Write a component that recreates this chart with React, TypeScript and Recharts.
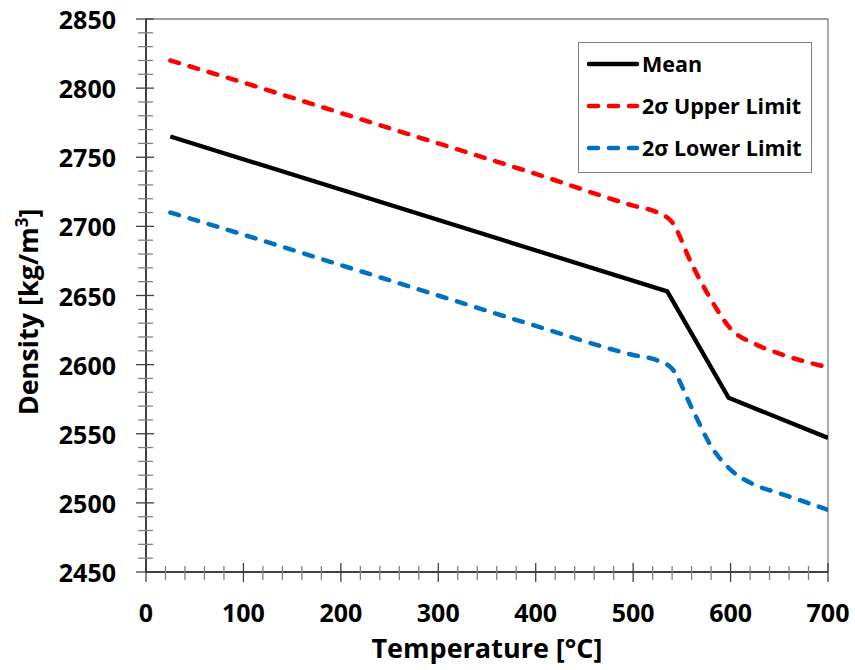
import { Label, Line, LineChart, ReferenceLine, XAxis, YAxis } from 'recharts';

// Mean density: piecewise-linear through the transition
const meanTemps = [25, 535, 598, 700];
const meanDensity = [2765, 2653, 2576, 2547];

// 2-sigma band, sampled more densely around the transition
const limitTemps = [25, 100, 200, 300, 400, 500, 525, 540, 560, 580, 600, 625, 650, 700];
const upperDensity = [2820, 2804, 2782, 2760, 2738, 2715, 2710, 2703, 2673, 2647, 2626, 2615, 2608, 2598];
const lowerDensity = [2710, 2694, 2672, 2650, 2628, 2607, 2603, 2597, 2569, 2541, 2524, 2513, 2507, 2495];

const xTicks = Array.from({ length: 36 }, (_, i) => i * 20);
const yTicks = Array.from({ length: 41 }, (_, i) => 2450 + i * 10);

const seriesNames = ['Mean', '2σ Upper Limit', '2σ Lower Limit'];
const seriesColors = ['#000000', '#ff0000', '#0070c0'];

const FONT = '"Open Sans", "Liberation Sans", sans-serif';
const Y_AXIS_WIDTH = 146;

const toPoints = (temps: number[], values: number[]) =>
  temps.map((t, i) => ({ t, v: values[i] }));

const meanData = toPoints(meanTemps, meanDensity);
const upperData = toPoints(limitTemps, upperDensity);
const lowerData = toPoints(limitTemps, lowerDensity);

function XTick({ x, y, payload }: any) {
  const major = payload.value % 100 === 0;
  return (
    <g>
      <line
        x1={x}
        x2={x}
        y1={y - (major ? 9 : 6)}
        y2={y + (major ? 10 : 8)}
        stroke={major ? '#404040' : '#808080'}
        strokeWidth={1.3}
      />
      {major && (
        <text
          x={x}
          y={y + 40}
          textAnchor="middle"
          dominantBaseline="central"
          fontFamily={FONT}
          fontWeight={700}
          fontSize={25}
          fill="#000"
        >
          {payload.value}
        </text>
      )}
    </g>
  );
}

function YTick({ x, y, payload }: any) {
  const major = payload.value % 50 === 0;
  return (
    <g>
      <line
        x1={x - (major ? 10 : 8)}
        x2={x + (major ? 8 : 7)}
        y1={y}
        y2={y}
        stroke={major ? '#404040' : '#808080'}
        strokeWidth={1.3}
      />
      {major && (
        <text
          x={Y_AXIS_WIDTH - 30}
          y={y}
          textAnchor="end"
          dominantBaseline="central"
          fontFamily={FONT}
          fontWeight={700}
          fontSize={25}
          fill="#000"
        >
          {payload.value}
        </text>
      )}
    </g>
  );
}

function LegendBox() {
  return (
    <div
      style={{
        position: 'absolute',
        left: 578,
        top: 42,
        width: 234,
        height: 131,
        border: '1.5px solid #7f7f7f',
        background: '#fff',
        boxSizing: 'border-box',
        fontFamily: FONT,
        fontWeight: 700,
        fontSize: 21.5,
        lineHeight: 1,
        color: '#000',
        paddingTop: 0,
      }}
    >
      {seriesNames.map((name, i) => (
        <div key={name} style={{ display: 'flex', alignItems: 'center', height: 42, paddingLeft: 7 }}>
          <svg width={54} height={10} style={{ marginRight: 2 }}>
            <line
              x1={3}
              x2={51}
              y1={5}
              y2={5}
              stroke={seriesColors[i]}
              strokeWidth={4.5}
              strokeLinecap="round"
              strokeDasharray={i === 0 ? undefined : '9 11'}
            />
          </svg>
          <span>{name}</span>
        </div>
      ))}
    </div>
  );
}

export default function App() {
  return (
    <div style={{ position: 'absolute', left: 0, top: 0, width: 855, height: 670, background: '#fff' }}>
      <LineChart width={855} height={670} margin={{ top: 19, right: 27, bottom: 68, left: 0 }}>
        <XAxis
          dataKey="t"
          type="number"
          domain={[0, 700]}
          ticks={xTicks}
          interval={0}
          height={30}
          tickSize={0}
          tickMargin={0}
          tickLine={false}
          tick={<XTick />}
          axisLine={{ stroke: '#000', strokeWidth: 1.5 }}
          allowDataOverflow
        >
          <Label
            content={() => (
              <text
                x={487}
                y={658}
                textAnchor="middle"
                fontFamily={FONT}
                fontWeight={700}
                fontSize={27}
                fill="#000"
              >
                Temperature [°C]
              </text>
            )}
          />
        </XAxis>
        <YAxis
          type="number"
          domain={[2450, 2850]}
          ticks={yTicks}
          interval={0}
          width={Y_AXIS_WIDTH}
          tickSize={0}
          tickMargin={0}
          tickLine={false}
          tick={<YTick />}
          axisLine={{ stroke: '#000', strokeWidth: 1.5 }}
          allowDataOverflow
        >
          <Label
            content={() => (
              <text
                transform="translate(38 312) rotate(-90)"
                textAnchor="middle"
                fontFamily={FONT}
                fontWeight={700}
                fontSize={27}
                fill="#000"
              >
                Density [kg/m
                <tspan dy={-10} fontSize={17}>3</tspan>
                <tspan dy={10}>]</tspan>
              </text>
            )}
          />
        </YAxis>
        <ReferenceLine y={2850} stroke="#7f7f7f" strokeWidth={1.3} />
        <ReferenceLine x={700} stroke="#7f7f7f" strokeWidth={1.3} />
        <Line
          data={upperData}
          dataKey="v"
          name={seriesNames[1]}
          type="monotone"
          stroke={seriesColors[1]}
          strokeWidth={4.5}
          strokeDasharray="9 11"
          strokeLinecap="round"
          dot={false}
          activeDot={false}
          isAnimationActive={false}
        />
        <Line
          data={lowerData}
          dataKey="v"
          name={seriesNames[2]}
          type="monotone"
          stroke={seriesColors[2]}
          strokeWidth={4.5}
          strokeDasharray="9 11"
          strokeLinecap="round"
          dot={false}
          activeDot={false}
          isAnimationActive={false}
        />
        <Line
          data={meanData}
          dataKey="v"
          name={seriesNames[0]}
          type="linear"
          stroke={seriesColors[0]}
          strokeWidth={4.3}
          dot={false}
          activeDot={false}
          isAnimationActive={false}
        />
      </LineChart>
      <LegendBox />
    </div>
  );
}
